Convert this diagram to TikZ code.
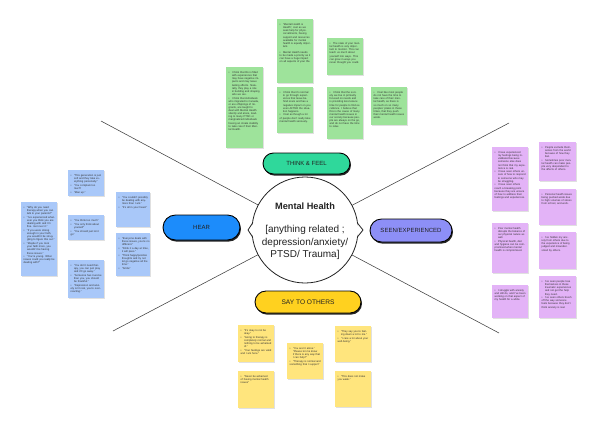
\documentclass[tikz,border=0pt]{standalone}
\usepackage{fontspec}
\setmainfont{Liberation Sans}
\usetikzlibrary{shadows,shapes.misc}
\definecolor{gnote}{HTML}{9EE39B}
\definecolor{bnote}{HTML}{A9C8F9}
\definecolor{pnote}{HTML}{E3B3F7}
\definecolor{ynote}{HTML}{FFE57D}
\definecolor{tfcol}{HTML}{2FD89B}
\definecolor{hearcol}{HTML}{1C8CFB}
\definecolor{seencol}{HTML}{8D8FF7}
\definecolor{saycol}{HTML}{FFD11F}
\definecolor{ink}{HTML}{222222}
\newcommand\bi{\par\vspace{0.6pt}\hangindent=3.3pt\hangafter=1\noindent\hbox to 3.3pt{•\hss}}
\newcommand\sticky[7]{%
  \node[notebox, fill=#6, minimum width=#4pt, minimum height=#5pt, anchor=north west] (#1) at (#2,#3) {};
  \node[notetext, anchor=north west] (#1t) at ([shift={(2.5pt,-2.6pt)}]#1.north west) {#7};}
\tikzset{
  notebox/.style={rectangle, draw=none, inner sep=0pt, drop shadow={shadow xshift=0.4pt, shadow yshift=-0.5pt, fill=black, opacity=0.12}},
  notetext/.style={inner sep=0pt, text width=31pt, align=left, font=\fontsize{2.65}{3.12}\selectfont, text=black!80},
  pill/.style={rounded rectangle, draw=black, line width=0.9pt, inner sep=0pt, text=ink, font=\fontsize{6}{7}\selectfont, drop shadow={shadow xshift=1pt, shadow yshift=-1.6pt, fill=black!85, opacity=1}},
  spoke/.style={draw=black!75, line width=0.55pt},
}
\begin{document}
\begin{tikzpicture}[x=1pt,y=-1pt]
\useasboundingbox[fill=white] (0,0) rectangle (596,429);
% spoke ends
\coordinate (ul) at (101,121);
\coordinate (ll) at (113,331);
\coordinate (ur) at (509,123);
\coordinate (lr) at (499,333);
\node[circle, minimum size=106pt, inner sep=0pt] (mhb) at (305,230) {};
\draw[spoke] (ul) -- (mhb);
\draw[spoke] (ll) -- (mhb);
\draw[spoke] (ur) -- (mhb);
\draw[spoke] (lr) -- (mhb);
% central circle
\node[circle, minimum size=106pt, inner sep=0pt, draw=ink, line width=0.8pt, fill=white] (mh) at (305,230) {};
\fill[white] (252.4,223.3) -- (248,230) -- (252.4,236.7) -- (253.6,230) -- cycle;
\draw[ink, line width=0.8pt, line join=round] (252.4,223.3) -- (248,230) -- (252.4,236.7);
\fill[white] (357.6,223.3) -- (363,230) -- (357.6,236.7) -- (356.4,230) -- cycle;
\draw[ink, line width=0.8pt, line join=round] (357.6,223.3) -- (363,230) -- (357.6,236.7);
\node[text=ink, font=\fontsize{9.2}{11}\selectfont\bfseries] (mhtitle) at (305,206) {Mental Health};
\node[text=ink, align=center, font=\fontsize{10}{12.7}\selectfont] (mhsub) at (305,242.5) {[anything related ;\\depression/anxiety/\\PTSD/ Trauma]};
% pills
\node[pill, fill=tfcol, minimum width=87pt, minimum height=21pt] (tf) at (306.5,163.5) {THINK \& FEEL};
\node[pill, fill=hearcol, minimum width=77pt, minimum height=25pt] (hear) at (201.5,227.5) {HEAR};
\node[pill, fill=seencol, minimum width=82pt, minimum height=23pt] (seen) at (411,230.5) {SEEN/EXPERIENCED};
\node[pill, fill=saycol, minimum width=106pt, minimum height=22pt, font=\fontsize{6.6}{8}\selectfont] (say) at (308,302) {SAY TO OTHERS};
% green notes
\sticky{g1}{277}{19}{36}{64}{gnote}{\bi "Mental Health is Health", Just as we seek help for physical ailments, having support and resources available for mental health is equally important.\par\vspace{2pt}\bi Mental Health needs to be made a priority as it can have a huge impact on all aspects of your life.}
\sticky{g2}{327}{38}{36}{37}{gnote}{\bi The state of your mental health is very important to monitor. This can teach us much about yourself into ways. This can grow in ways you never thought you could.}
\sticky{g3}{226}{67}{37}{81}{gnote}{\bi I think that life is filled with experiences that may have negative impacts and may leave lasting effects. Naturally, they play a role in building and shaping who we are.\bi I think that individuals who migrated to Canada, or are offsprings of migrants, are taught to deal with Mental Health silently and alone, leading to many PTSD or marginalized individuals having an innate inability to take care if their Mental Health.}
\sticky{g4}{277}{87}{36}{46}{gnote}{\bi I think that it's normal to go through experiences that leave behind scars and has a negative impact on you even AFTER the situation happens.\bi I feel as though a lot of people don't really take mental health seriously.}
\sticky{g5}{327}{87}{36}{52}{gnote}{\bi I think that the society we live in primarily focused on needs and is providing less leisure time for people to find excellence. I believe that this is the cause of many mental health issues in our society because people are always on the go, and do not have the time to relax.}
\sticky{g6}{371}{87}{36}{38}{gnote}{\bi I feel like most people do not have the time to take care of their mental health, as there is so much on so many peoples' plates in these times, that they push their mental health issues aside.}
% blue notes
\sticky{b1}{21}{202}{36}{74}{bnote}{\bi "Why do you need therapy when you can talk to your parents?"\bi "I've experienced whatever you think you are dealing with and I'm fine. Get over it."\bi "If you were strong enough in your faith, you wouldn't be struggling to figure this out."\bi "Maybe if you took your faith more, you wouldn't be having these issues."\bi "You're young. What issues could you really be dealing with?"}
\sticky{b2}{68}{170}{36}{26}{bnote}{\bi "This generation is just soft and they take everything personally."\bi "You complain too much"\bi "Man up."}
\sticky{b3}{68}{215}{36}{25}{bnote}{\bi "You think too much"\bi "You only think about yourself"\bi "You should just let it go"}
\sticky{b4}{68}{260}{36}{38}{bnote}{\bi "You don't need therapy, you can just pray and it'll go away."\bi "Someone has it worse than you, you should be thankful."\bi "Depression and anxiety isn't real, you're overreacting."}
\sticky{b5}{116}{192}{34}{35}{bnote}{\bi "You couldn't possibly be dealing with anymore than I am."\bi "It's all in your head."}
\sticky{b6}{116}{233}{34}{43}{bnote}{\bi "Everyone deals with these issues, you're no different."\bi "Drink it a day at time, it will pass."\bi "Think happy/positive thoughts and try not let go negative all the time."\bi "Smile"}
% purple notes
\sticky{p1}{492}{147}{36}{64}{pnote}{\bi I have experienced my feelings being invalidated because someone else does not think that my experience is real.\bi I have seen others unsure of how to respond to someone who may be struggling.\bi I have seen others reach a breaking point because they are unsure of how to address their feelings and experiences.}
\sticky{p2}{539}{142}{37}{39}{pnote}{\bi People exclude themselves from the world because of how they feel.\bi Sometimes poor mental health can make people very despondent to the affects of others.}
\sticky{p3}{539}{189}{37}{36}{pnote}{\bi Personal health issues being pushed aside due to high volumes of stress from school, and work.}
\sticky{p4}{492}{223}{36}{50}{pnote}{\bi Poor mental health disrupts the balance of our physical nature as well.\bi Physical health, diet and hygiene can be compromised when mental health is compromised.}
\sticky{p5}{539}{232}{37}{37}{pnote}{\bi I've hidden my anxiety from others due to the experience of being judged and misunderstood by others.}
\sticky{p6}{492}{285}{36}{33}{pnote}{\bi I struggle with anxiety and still do, and I've been working on that aspect of my health for a while.}
\sticky{p7}{539}{276}{37}{42}{pnote}{\bi I've seen people lose themselves in these traumatic experiences and not get the help they need.\bi I've seen others brush off the way someone feels because they don't think anxiety is real.}
% yellow notes
\sticky{y1}{238}{325}{36}{37}{ynote}{\bi "It's okay to not be okay."\bi "Going to therapy is completely normal and nothing to be ashamed of."\bi "Your feelings are valid and I am here."}
\sticky{y2}{238}{371}{36}{37}{ynote}{\bi "Never be ashamed of having mental health issues"}
\sticky{y3}{287}{343}{36}{36}{ynote}{\bi "You aren't alone." "Please let me know if there is any way that I can help?"\bi "Therapy is normal and something that I support"}
\sticky{y4}{335}{326}{36}{36}{ynote}{\bi "They say you're feeling down a lot to me."\bi "I care a lot about your well-being."}
\sticky{y5}{335}{371}{36}{36}{ynote}{\bi "This does not make you weak."}
\end{tikzpicture}
\end{document}
